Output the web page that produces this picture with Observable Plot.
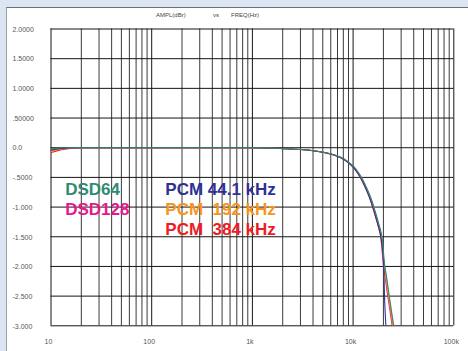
<!DOCTYPE html>
<html>
<head>
<meta charset="utf-8">
<script src="https://cdn.jsdelivr.net/npm/d3@7"></script>
<script src="https://cdn.jsdelivr.net/npm/@observablehq/plot@0.6"></script>
<style>
  html, body { margin: 0; padding: 0; }
  body { width: 468px; height: 351px; background: #dce6f3; position: relative; overflow: hidden; }
  #panel { position: absolute; left: 6px; top: 7px; right: 0; bottom: 0; background: #fff;
           border-top: 1px solid #6a6f78; border-left: 1px solid #9aa0a8; }
  #chart { position: absolute; left: 0; top: 0; }
  svg text { white-space: pre; }
</style>
</head>
<body>
<div id="panel"></div>
<div id="chart"></div>
<script>
// ---- data ----
const titleParts = ["AMPL(dBr)", "vs", "FREQ(Hz)"];
const xTicks = [10, 100, 1000, 10000, 100000];
const xTickLabels = ["10", "100", "1k", "10k", "100k"];
const yTicks = [2, 1.5, 1, 0.5, 0, -0.5, -1, -1.5, -2, -2.5, -3];
const yTickLabels = ["2.0000", "1.5000", "1.0000", ".50000", "0.0", "-.5000", "-1.000", "-1.500", "-2.000", "-2.500", "-3.000"];

const freqHz = [10, 12, 15, 20, 50, 100, 500, 1000, 2000, 3000, 4000, 5000, 6000, 7000, 8000, 9000, 10000, 11000, 12000, 13000, 14000, 15000, 16000, 17000, 18000, 19000, 20300];
const rolloffDb = [0, 0, 0, 0, 0, 0, 0, 0, -0.015, -0.03, -0.05, -0.075, -0.105, -0.145, -0.19, -0.25, -0.32, -0.41, -0.51, -0.63, -0.75, -0.88, -1.03, -1.18, -1.33, -1.5, -2.0];
const dsd64LowDb  = [-0.02, -0.005, 0, 0];
const dsd128LowDb = [-0.05, -0.02, -0.01, 0];
const pcm441LowDb = [-0.04, -0.015, -0.005, 0];
const pcm192LowDb = [-0.06, -0.025, -0.01, 0];
const pcm384LowDb = [-0.08, -0.04, -0.015, 0];

const pcm441TailHz = [20600, 21000, 21300];
const pcm441TailDb = [-2.45, -2.8, -3.0];
const hiResTailHz  = [21000, 22000, 23000, 24000, 24700];
const dsd64TailHz  = [21100, 22100, 23100, 24100, 24900];
const hiResTailDb  = [-2.17, -2.42, -2.64, -2.85, -3.0];

const legendLeft = ["DSD64", "DSD128"];
const legendLeftColors = ["#2f8a72", "#e8168b"];
const legendRight = ["PCM 44.1 kHz", "PCM  192 kHz", "PCM  384 kHz"];
const legendRightColors = ["#2e3192", "#f7941d", "#ed1c24"];

// ---- build series ----
function build(lowDb, tailHz, tailDb) {
  const db = lowDb.concat(rolloffDb.slice(lowDb.length));
  const rows = freqHz.map((f, i) => ({f, db: db[i]}));
  tailHz.forEach((f, i) => rows.push({f, db: tailDb[i]}));
  return rows;
}
const series = [
  {color: "#e8168b", shift: -0.5, rows: build(dsd128LowDb, hiResTailHz, hiResTailDb)},
  {color: "#ed1c24", shift: 0.3, rows: build(pcm384LowDb, hiResTailHz, hiResTailDb)},
  {color: "#f7941d", shift: 0.2, rows: build(pcm192LowDb, hiResTailHz, hiResTailDb)},
  {color: "#2e3192", shift: -0.3, rows: build(pcm441LowDb, pcm441TailHz, pcm441TailDb)},
  {color: "#2f8a72", shift: 0.8, rows: build(dsd64LowDb, dsd64TailHz, hiResTailDb)}
];

const xMinor = [];
for (const dec of [10, 100, 1000, 10000]) for (let k = 2; k <= 9; k++) xMinor.push(dec * k);

const yLabelOf = new Map(yTicks.map((v, i) => [v, yTickLabels[i]]));
const xLabelOf = new Map(xTicks.map((v, i) => [v, xTickLabels[i]]));

const titleDx = [105, 162, 180];

const chart = Plot.plot({
  width: 468,
  height: 351,
  marginLeft: 50.5,
  marginRight: 14.7,
  marginTop: 28.5,
  marginBottom: 25.7,
  x: {type: "log", domain: [10, 100000], axis: null},
  y: {domain: [-3, 2], axis: null},
  style: {background: "transparent", fontFamily: "'Liberation Sans', Arial, sans-serif", color: "#555", overflow: "visible"},
  marks: [
    Plot.ruleX(xMinor, {x: d => d, stroke: "#3a3a3a", strokeWidth: 1}),
    Plot.ruleX(xTicks, {x: d => d, stroke: "#151515", strokeWidth: 1}),
    Plot.ruleY(yTicks, {y: d => d, stroke: "#151515", strokeWidth: 1}),
    Plot.text(yTicks, {y: d => d, text: d => yLabelOf.get(d), frameAnchor: "left", textAnchor: "start", dx: -38.5, dy: 0.5, fontSize: 7, fill: "#555"}),
    Plot.text(xTicks, {x: d => d, text: d => xLabelOf.get(d), frameAnchor: "bottom", lineAnchor: "top", dy: 13, dx: -2.5, fontSize: 7, fill: "#555"}),
    ...titleParts.map((t, i) => Plot.text([t], {frameAnchor: "top-left", textAnchor: "start", lineAnchor: "middle", dx: titleDx[i], dy: -13.5, fontSize: 6, fill: "#444"})),
    ...series.map(s => Plot.line(s.rows, {x: "f", y: "db", stroke: s.color, strokeWidth: 1.1, dx: s.shift, clip: true, curve: "monotone-x"})),
    ...legendLeft.map((t, i) => Plot.text([t], {frameAnchor: "top-left", textAnchor: "start", lineAnchor: "top", dx: 14.2, dy: 154.4 + 19.7 * i, fontSize: 17, fontWeight: "bold", fill: legendLeftColors[i]})),
    ...legendRight.map((t, i) => Plot.text([t], {frameAnchor: "top-left", textAnchor: "start", lineAnchor: "top", dx: 114.3, dy: 154.4 + 19.7 * i, fontSize: 17, fontWeight: "bold", fill: legendRightColors[i]}))
  ]
});
document.getElementById("chart").appendChild(chart);
</script>
</body>
</html>
